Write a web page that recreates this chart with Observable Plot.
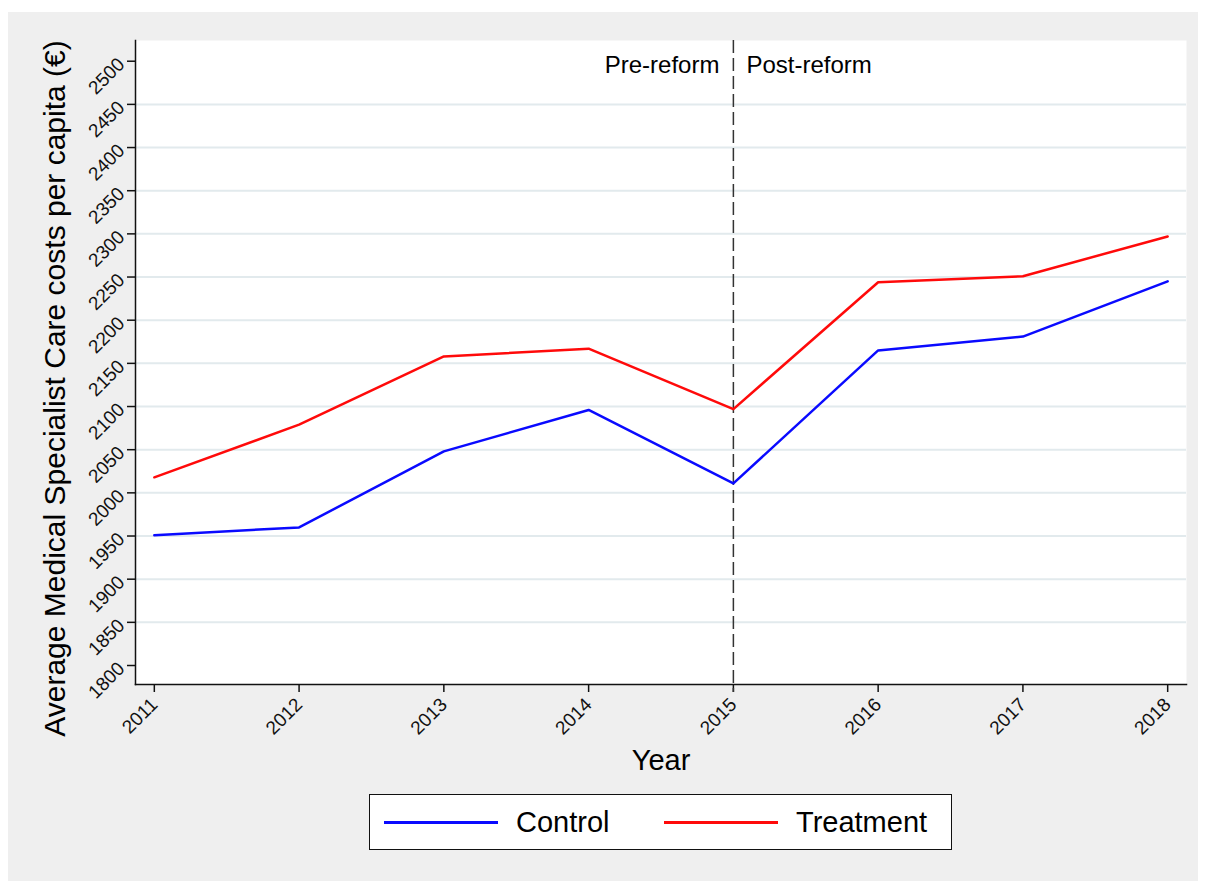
<!DOCTYPE html>
<html><head><meta charset="utf-8">
<script src="https://cdn.jsdelivr.net/npm/d3@7"></script>
<script src="https://cdn.jsdelivr.net/npm/@observablehq/plot@0.6"></script>
<style>
body{margin:0;background:#fff;font-family:"Liberation Sans",Arial,Helvetica,sans-serif;}
#wrap{position:relative;width:1206px;height:881px;overflow:hidden;}
#panel{position:absolute;left:8px;top:12px;width:1190px;height:869px;background:#efefef;}
#chart{position:absolute;left:0;top:0;}
#legend{position:absolute;left:369px;top:794px;width:581px;height:54px;background:#fff;border:1.5px solid #111;}
.sw{position:absolute;top:26px;width:114px;height:3px;}
.lt{position:absolute;top:10px;font-size:29px;line-height:34px;color:#000;}
</style></head>
<body>
<div id="wrap"><div id="panel"></div><div id="chart"></div><div id="legend"></div></div>
<script>
const years = [2011, 2012, 2013, 2014, 2015, 2016, 2017, 2018];
const control = [1951, 1960, 2048, 2096, 2011, 2165, 2181, 2245];
const treatment = [2018, 2079, 2158, 2167, 2097, 2244, 2251, 2297];
const seriesNames = ["Control", "Treatment"];
const seriesColors = ["#0a0aff", "#ff0a0a"];
const yTicks = [1800, 1850, 1900, 1950, 2000, 2050, 2100, 2150, 2200, 2250, 2300, 2350, 2400, 2450, 2500];
const gridTicks = [1850, 1900, 1950, 2000, 2050, 2100, 2150, 2200, 2250, 2300, 2350, 2400, 2450];
const reformYear = 2015;
const phaseLabels = ["Pre-reform", "Post-reform"];
const yLabel = "Average Medical Specialist Care costs per capita (€)";
const xLabel = "Year";

const rows = [];
years.forEach((y, i) => {
  rows.push({year: y, value: control[i], series: seriesNames[0]});
  rows.push({year: y, value: treatment[i], series: seriesNames[1]});
});

const chart = Plot.plot({
  width: 1206, height: 881,
  marginLeft: 135, marginRight: 20, marginTop: 40, marginBottom: 197,
  style: {background: "transparent", fontFamily: "'Liberation Sans', Arial, sans-serif", color: "#111"},
  x: {domain: [2010.87, 2018.13]},
  y: {domain: [1778, 2524]},
  color: {domain: seriesNames, range: seriesColors},
  marks: [
    Plot.frame({fill: "white", stroke: null}),
    Plot.gridY(gridTicks, {stroke: "#e2eaed", strokeOpacity: 1, strokeWidth: 2}),
    Plot.frame({anchor: "left", stroke: "#111", strokeWidth: 1.5}),
    Plot.frame({anchor: "bottom", stroke: "#111", strokeWidth: 1.5}),
    Plot.axisY(yTicks, {tickSize: 8, tickPadding: 6, tickRotate: -45, fontSize: 19, label: null, tickFormat: d => String(d), strokeWidth: 1.5}),
    Plot.axisX(years, {tickSize: 8, tickPadding: 9, tickRotate: -45, fontSize: 19, label: null, tickFormat: d => String(d), strokeWidth: 1.5}),
    Plot.ruleX([reformYear], {stroke: "#333", strokeWidth: 1.5, strokeDasharray: "13,5", insetBottom: -8}),
    Plot.line(rows, {x: "year", y: "value", stroke: "series", strokeWidth: 2.5}),
    Plot.text([{label: phaseLabels[0], year: reformYear}], {x: "year", text: "label", frameAnchor: "top", lineAnchor: "middle", dy: 25, dx: -14, textAnchor: "end", fontSize: 24, fill: "#000"}),
    Plot.text([{label: phaseLabels[1], year: reformYear}], {x: "year", text: "label", frameAnchor: "top", lineAnchor: "middle", dy: 25, dx: 13, textAnchor: "start", fontSize: 24, fill: "#000"}),
    Plot.text([yLabel], {frameAnchor: "left", textAnchor: "middle", lineAnchor: "middle", dx: -80, dy: 26, rotate: -90, fontSize: 30, fill: "#000"}),
    Plot.text([xLabel], {frameAnchor: "bottom", lineAnchor: "middle", dy: 76, fontSize: 29, fill: "#000"})
  ]
});
document.getElementById("chart").appendChild(chart);

const legend = document.getElementById("legend");
const swLeft = [14, 294], txLeft = [146, 426];
seriesNames.forEach((name, i) => {
  const sw = document.createElement("div");
  sw.className = "sw"; sw.style.left = swLeft[i] + "px"; sw.style.background = seriesColors[i];
  legend.appendChild(sw);
  const t = document.createElement("div");
  t.className = "lt"; t.style.left = txLeft[i] + "px"; t.textContent = name;
  legend.appendChild(t);
});
</script>
</body></html>
